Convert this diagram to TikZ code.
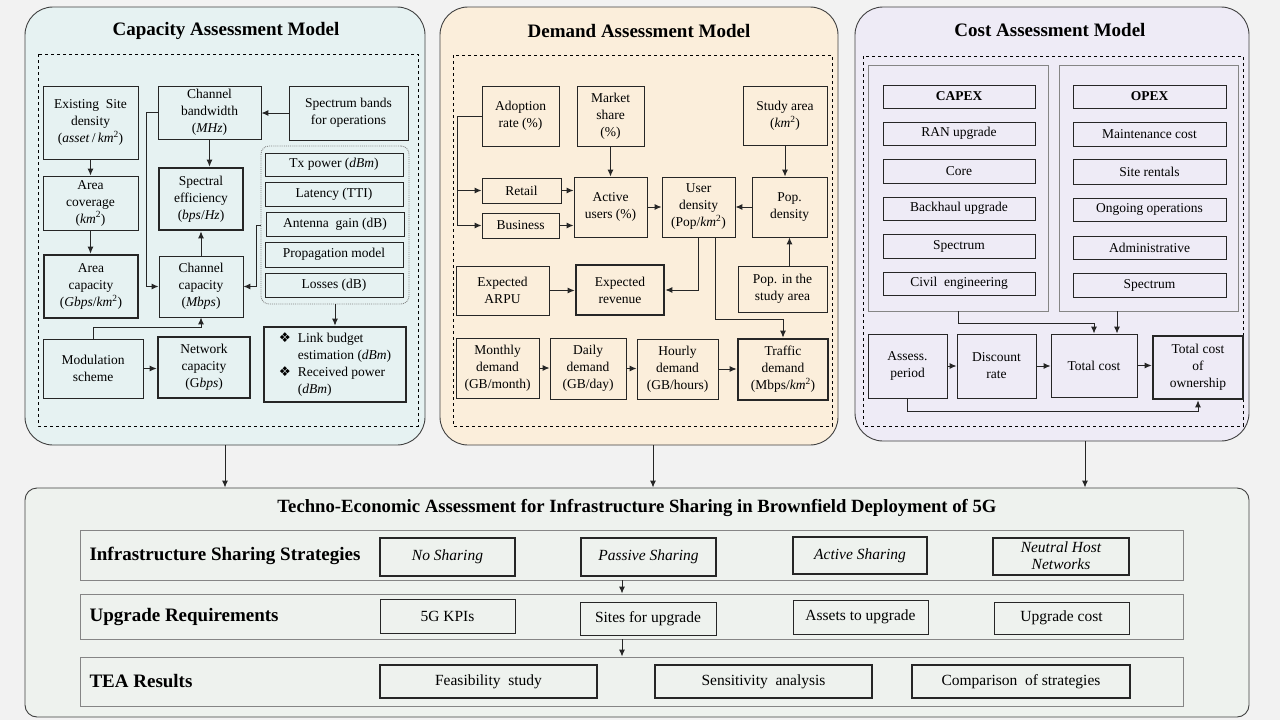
\documentclass[tikz,border=0pt]{standalone}
\usepackage{fontspec}
\setmainfont{Liberation Serif}
\newfontfamily\symbolfont{DejaVu Sans}
\usetikzlibrary{arrows.meta,positioning}

\definecolor{BackGray}{HTML}{F2F2F2}
\definecolor{CapFill}{HTML}{E6F2F2}
\definecolor{DemFill}{HTML}{FBEEDB}
\definecolor{CostFill}{HTML}{EEEBF6}
\definecolor{TeaFill}{HTML}{EEF2EE}
\definecolor{GroupGray}{HTML}{858585}

\begin{document}
\begin{tikzpicture}[x = 1pt, y = -1pt]
        \tikzset{
            BoxStyle/.style = {
                draw = black!85,
                line width = 0.9pt,
                shape = rectangle,
                inner sep = 1pt,
                align = center,
                font = \fontsize{13.5}{17}\selectfont},
            ThickBoxStyle/.style = {BoxStyle, line width = 2.6pt},
            BigText/.style = {font = \fontsize{15.5}{18}\selectfont},
            BigItalic/.style = {font = \fontsize{15.5}{17}\selectfont\itshape},
            GroupStyle/.style = {draw = GroupGray, line width = 0.9pt, shape = rectangle},
            PanelStyle/.style = {
                draw = black!75,
                line width = 0.9pt,
                shape = rectangle,
                rounded corners = 28pt},
            DashStyle/.style = {draw = black, line width = 0.8pt, dashed},
            TitleStyle/.style = {font = \fontsize{19}{22}\selectfont\bfseries},
            RowStyle/.style = {draw = GroupGray, line width = 0.9pt, shape = rectangle,
                minimum width = 1103pt},
            ArrowStyle/.style = {
                draw = black!85,
                line width = 1pt,
                -{Latex[length = 7pt, width = 6pt]}}
                }
    \fill[BackGray] (0,0) rectangle (1280,720);
    % panels
    \node[PanelStyle, fill = CapFill, minimum width = 400pt, minimum height = 438pt] (CapPanel) at (225,226) {};
    \node[PanelStyle, fill = DemFill, minimum width = 398pt, minimum height = 438pt] (DemPanel) at (639,226) {};
    \node[PanelStyle, fill = CostFill, minimum width = 394pt, minimum height = 434pt] (CostPanel) at (1052,224) {};
    \node[PanelStyle, rounded corners = 12pt, fill = TeaFill, minimum width = 1224pt, minimum height = 229pt] (TeaPanel) at (637,602.5) {};
    \node[TitleStyle] (CapTitle) at (226,31) {Capacity Assessment Model};
    \node[TitleStyle] (DemTitle) at (639,31) {Demand Assessment Model};
    \node[TitleStyle] (CostTitle) at (1050,30) {Cost Assessment Model};
    \node[TitleStyle, font = \fontsize{18.7}{22}\selectfont\bfseries] (TeaTitle) at (637,508)
        {Techno-Economic Assessment for Infrastructure Sharing in Brownfield Deployment of 5G};
    \draw[DashStyle] (38,54) rectangle (418,426);
    \draw[DashStyle] (453,55) rectangle (832,426);
    \draw[DashStyle] (863,56) rectangle (1243,426);

    % capacity model
    \node[BoxStyle, minimum width = 95pt, minimum height = 73pt] (Exist) at (90.5,122.5)
        {Existing\enspace Site\\density\\(\textit{asset}\,/\,\textit{km}\textsuperscript{2})};
    \node[BoxStyle, minimum width = 95pt, minimum height = 54pt] (Cover) at (90.5,203)
        {Area\\coverage\\(\textit{km}\textsuperscript{2})};
    \node[ThickBoxStyle, minimum width = 94pt, minimum height = 63pt] (AreaCap) at (91,286.5)
        {Area\\capacity\\(\textit{Gbps}/\textit{km}\textsuperscript{2})};
    \node[BoxStyle, minimum width = 103pt, minimum height = 53pt] (Band) at (209.5,112.5)
        {Channel\\bandwidth\\(\textit{MHz})};
    \node[BoxStyle, minimum width = 119pt, minimum height = 54pt] (Bands) at (348.5,113)
        {Spectrum bands\\for operations};
    \node[ThickBoxStyle, minimum width = 84pt, minimum height = 62pt] (SpecEff) at (201,199)
        {Spectral\\efficiency\\(\textit{bps}/\textit{Hz})};
    \node[BoxStyle, minimum width = 84pt, minimum height = 61pt] (ChanCap) at (201,286.5)
        {Channel\\capacity\\(\textit{Mbps})};
    \node[draw = GroupGray, densely dotted, line width = 0.9pt, rounded corners = 8pt,
        minimum width = 148pt, minimum height = 158pt] (Radio) at (335,225) {};
    \node[BoxStyle, minimum width = 138pt, minimum height = 23pt] (Tx) at (334,164.5) {Tx power (\textit{dBm})};
    \node[BoxStyle, minimum width = 138pt, minimum height = 24pt] (Lat) at (334,194) {Latency (TTI)};
    \node[BoxStyle, minimum width = 138pt, minimum height = 24pt] (Ant) at (335,224) {Antenna\enspace gain (dB)};
    \node[BoxStyle, minimum width = 138pt, minimum height = 25pt] (Prop) at (334,254.5) {Propagation model};
    \node[BoxStyle, minimum width = 138pt, minimum height = 24pt] (Loss) at (334,285) {Losses (dB)};
    \node[BoxStyle, minimum width = 100pt, minimum height = 59pt] (Mod) at (93,368.5) {Modulation\\scheme};
    \node[ThickBoxStyle, minimum width = 92pt, minimum height = 61pt] (NetCap) at (204,367.5)
        {Network\\capacity\\(G\textit{bps})};
    \node[ThickBoxStyle, minimum width = 142pt, minimum height = 75pt] (Link) at (335,364.5)
        {\begin{tabular}{@{}l@{\hspace{7pt}}l@{}}
            {\symbolfont ❖} & Link budget\\
             & estimation (\textit{dBm})\\
            {\symbolfont ❖} & Received power\\
             & (\textit{dBm})
        \end{tabular}};
    \draw[ArrowStyle] (Exist) -- (Cover);
    \draw[ArrowStyle] (Cover.south) -- (Cover.south |- AreaCap.north);
    \draw[ArrowStyle] (Band.south) -- (Band.south |- SpecEff.north);
    \draw[ArrowStyle] (Bands.west) -- (Bands.west -| Band.east);
    \draw[ArrowStyle] (Band.west) -- ++(-11,0) |- (ChanCap.west);
    \draw[ArrowStyle] (ChanCap) -- (SpecEff);
    \draw[ArrowStyle] (Radio.west) -- ++(-4,0) |- (ChanCap.east);
    \draw[ArrowStyle] (Radio) -- (Link);
    \draw[ArrowStyle] (Mod.east) -- (Mod.east -| NetCap.west);
    \draw[ArrowStyle] (Mod.north) -- ++(0,-11) -| (ChanCap.south);

    % demand model
    \node[BoxStyle, minimum width = 77pt, minimum height = 60pt] (Adopt) at (520.5,116) {Adoption\\rate (\%)};
    \node[BoxStyle, minimum width = 67pt, minimum height = 60pt] (Market) at (610.5,116) {Market\\share\\(\%)};
    \node[BoxStyle, minimum width = 84pt, minimum height = 59pt] (Study) at (785,115.5)
        {Study area\\(\textit{km}\textsuperscript{2})};
    \node[BoxStyle, minimum width = 79pt, minimum height = 25pt] (Retail) at (521.5,190.5) {Retail};
    \node[BoxStyle, minimum width = 77pt, minimum height = 25pt] (Business) at (520.5,225.5) {Business};
    \node[BoxStyle, minimum width = 73pt, minimum height = 60pt] (Active) at (610.5,207) {Active\\users (\%)};
    \node[BoxStyle, minimum width = 73pt, minimum height = 60pt] (UserDen) at (698.5,207)
        {User\\density\\(Pop/\textit{km}\textsuperscript{2})};
    \node[BoxStyle, minimum width = 75pt, minimum height = 60pt] (PopDen) at (789.5,207) {Pop.\\density};
    \node[BoxStyle, minimum width = 93pt, minimum height = 49pt] (Arpu) at (502.5,290.5) {Expected\\ARPU};
    \node[ThickBoxStyle, minimum width = 88pt, minimum height = 50pt] (Revenue) at (620,290) {Expected\\revenue};
    \node[BoxStyle, minimum width = 89pt, minimum height = 46pt] (PopArea) at (782.5,289) {Pop. in the\\study area};
    \node[BoxStyle, minimum width = 83pt, minimum height = 60pt] (Monthly) at (497.5,368)
        {Monthly\\demand\\(GB/month)};
    \node[BoxStyle, minimum width = 76pt, minimum height = 61pt] (Daily) at (588,368.5)
        {Daily\\demand\\(GB/day)};
    \node[BoxStyle, minimum width = 81pt, minimum height = 60pt] (Hourly) at (677.5,369)
        {Hourly\\demand\\(GB/hours)};
    \node[ThickBoxStyle, minimum width = 90pt, minimum height = 61pt] (Traffic) at (783,369.5)
        {Traffic\\demand\\(Mbps/\textit{km}\textsuperscript{2})};
    \draw[line width = 1pt, black!85] (Adopt.west) -- ++(-24,0) coordinate (AdoptBus);
    \draw[ArrowStyle] (AdoptBus) |- (Retail.west);
    \draw[ArrowStyle] (AdoptBus) |- (Business.west);
    \draw[ArrowStyle] (Retail.east) -- (Retail.east -| Active.west);
    \draw[ArrowStyle] (Business.east) -- (Business.east -| Active.west);
    \draw[ArrowStyle] (Market) -- (Active);
    \draw[ArrowStyle] (Active) -- (UserDen);
    \draw[ArrowStyle] (PopDen) -- (UserDen);
    \draw[ArrowStyle] (Study.south) -- (Study.south |- PopDen.north);
    \draw[ArrowStyle] (PopDen.south |- PopArea.north) -- (PopDen.south);
    \draw[ArrowStyle] (UserDen.south) |- (Revenue.east);
    \draw[ArrowStyle] (Arpu.east) -- (Arpu.east -| Revenue.west);
    \draw[ArrowStyle] ([xshift = 16.5pt]UserDen.south) -- ++(0,82) -| (Traffic.north);
    \draw[ArrowStyle] (Monthly.east) -- (Monthly.east -| Daily.west);
    \draw[ArrowStyle] (Daily.east) -- (Daily.east -| Hourly.west);
    \draw[ArrowStyle] (Hourly.east) -- (Hourly.east -| Traffic.west);

    % cost model
    \node[GroupStyle, minimum width = 180pt, minimum height = 246pt] (CapexGroup) at (958,188) {};
    \node[GroupStyle, minimum width = 179pt, minimum height = 246pt] (OpexGroup) at (1148.5,188) {};
    \node[BoxStyle, minimum width = 152pt, minimum height = 23pt, font = \fontsize{13.5}{16}\selectfont\bfseries] (Capex) at (959,96.5) {CAPEX};
    \node[BoxStyle, minimum width = 152pt, minimum height = 23pt] (Ran) at (959,133.5) {RAN upgrade};
    \node[BoxStyle, minimum width = 152pt, minimum height = 24pt] (Core) at (959,171) {Core};
    \node[BoxStyle, minimum width = 152pt, minimum height = 23pt] (Backhaul) at (959,208.5) {Backhaul upgrade};
    \node[BoxStyle, minimum width = 152pt, minimum height = 24pt] (CapSpec) at (959,246) {Spectrum};
    \node[BoxStyle, minimum width = 152pt, minimum height = 23pt] (Civil) at (959,283.5) {Civil\enspace engineering};
    \node[BoxStyle, minimum width = 153pt, minimum height = 23pt, font = \fontsize{13.5}{16}\selectfont\bfseries] (Opex) at (1149.5,96.5) {OPEX};
    \node[BoxStyle, minimum width = 153pt, minimum height = 24pt] (Maint) at (1149.5,134) {Maintenance cost};
    \node[BoxStyle, minimum width = 153pt, minimum height = 25pt] (Rent) at (1149.5,171.5) {Site rentals};
    \node[BoxStyle, minimum width = 153pt, minimum height = 23pt] (Ongoing) at (1149.5,209.5) {Ongoing operations};
    \node[BoxStyle, minimum width = 153pt, minimum height = 23pt] (Admin) at (1149.5,247.5) {Administrative};
    \node[BoxStyle, minimum width = 153pt, minimum height = 24pt] (OpSpec) at (1149.5,285) {Spectrum};
    \node[BoxStyle, minimum width = 79pt, minimum height = 64pt] (Assess) at (907.5,366) {Assess.\\period};
    \node[BoxStyle, minimum width = 79pt, minimum height = 64pt] (Discount) at (996.5,366) {Discount\\rate};
    \node[BoxStyle, minimum width = 86pt, minimum height = 63pt] (TotCost) at (1094,365.5) {Total cost};
    \node[ThickBoxStyle, minimum width = 90pt, minimum height = 63pt] (Owner) at (1198,367.5)
        {Total cost\\of\\ownership};
    \draw[ArrowStyle] (CapexGroup.south) -- ++(0,12) -| (TotCost.north);
    \draw[ArrowStyle] ([xshift = -31.5pt]OpexGroup.south) -- ([xshift = -31.5pt]OpexGroup.south |- TotCost.north);
    \draw[ArrowStyle] (Assess.east) -- (Assess.east -| Discount.west);
    \draw[ArrowStyle] (Discount.east) -- (Discount.east -| TotCost.west);
    \draw[ArrowStyle] (TotCost.east) -- (TotCost.east -| Owner.west);
    \draw[ArrowStyle] (Assess.south) -- ++(0,13) -| (Owner.south);

    % panels to assessment
    \draw[ArrowStyle] (CapPanel.south) -- (CapPanel.south |- TeaPanel.north);
    \draw[ArrowStyle] ([xshift = 14pt]DemPanel.south) -- ([xshift = 14pt]DemPanel.south |- TeaPanel.north);
    \draw[ArrowStyle] ([xshift = 33pt]CostPanel.south) -- ([xshift = 33pt]CostPanel.south |- TeaPanel.north);

    % techno-economic assessment
    \node[RowStyle, minimum height = 50pt] (Strat) at (631.5,555) {};
    \node[RowStyle, minimum height = 45pt] (Upgrade) at (631.5,616.5) {};
    \node[RowStyle, minimum height = 49pt] (Results) at (631.5,681.5) {};
    \node[TitleStyle, anchor = west] (StratLabel) at (86,556) {Infrastructure Sharing Strategies};
    \node[TitleStyle, anchor = west] (UpgradeLabel) at (86,617) {Upgrade Requirements};
    \node[TitleStyle, anchor = west] (ResultsLabel) at (86,681) {TEA Results};
    \node[ThickBoxStyle, BigItalic, minimum width = 135pt, minimum height = 38pt] (NoShare) at (447.5,557) {No Sharing};
    \node[ThickBoxStyle, BigItalic, minimum width = 135pt, minimum height = 38pt] (Passive) at (648.5,557) {Passive Sharing};
    \node[ThickBoxStyle, BigItalic, minimum width = 134pt, minimum height = 37pt] (ActShare) at (860,555.5) {Active Sharing};
    \node[ThickBoxStyle, BigItalic, line width = 2pt, minimum width = 136pt, minimum height = 37pt] (Neutral) at (1061,556) {Neutral Host\\Networks};
    \node[BoxStyle, BigText, minimum width = 135pt, minimum height = 34pt] (Kpi) at (447.5,616) {5G KPIs};
    \node[BoxStyle, BigText, minimum width = 136pt, minimum height = 33pt] (Sites) at (648,618.5) {Sites for upgrade};
    \node[BoxStyle, BigText, minimum width = 135pt, minimum height = 34pt] (Assets) at (860.5,617) {Assets to upgrade};
    \node[BoxStyle, BigText, minimum width = 135pt, minimum height = 32pt] (UpCost) at (1061.5,618) {Upgrade cost};
    \node[ThickBoxStyle, BigText, minimum width = 217pt, minimum height = 33pt] (Feas) at (488.5,681.5) {Feasibility\enspace study};
    \node[ThickBoxStyle, BigText, minimum width = 217pt, minimum height = 33pt] (Sens) at (763.5,681.5) {Sensitivity\enspace analysis};
    \node[ThickBoxStyle, BigText, minimum width = 218pt, minimum height = 33pt] (Compare) at (1021,681.5) {Comparison\enspace of strategies};
    \draw[ArrowStyle] ([xshift = -9.5pt]Strat.south) -- ([xshift = -9.5pt]Upgrade.north);
    \draw[ArrowStyle] ([xshift = -9.5pt]Upgrade.south) -- ([xshift = -9.5pt]Results.north);
    \end{tikzpicture}
\end{document}
